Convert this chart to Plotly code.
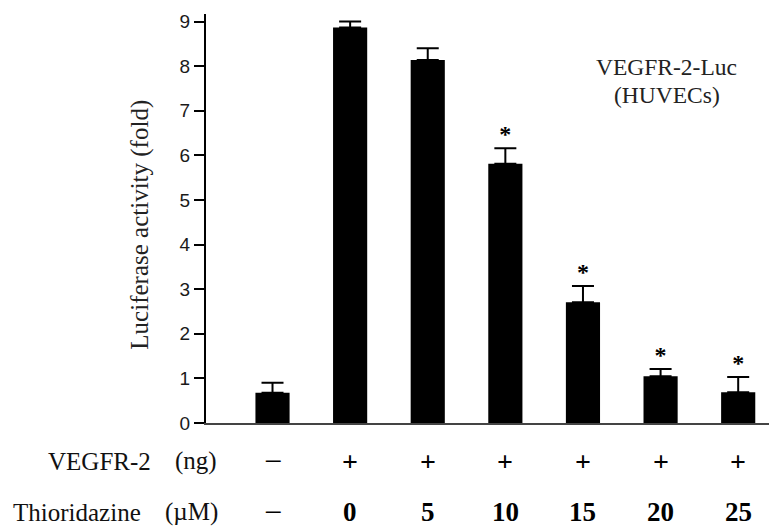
import plotly.graph_objects as go

# ---- data ----
groups = ["ctrl", "T0", "T5", "T10", "T15", "T20", "T25"]
vegfr2_row = ["−", "+", "+", "+", "+", "+", "+"]
thioridazine_row = ["−", "0", "5", "10", "15", "20", "25"]
luciferase_fold = [0.68, 8.87, 8.14, 5.81, 2.71, 1.05, 0.69]
sem_err = [0.22, 0.13, 0.26, 0.35, 0.36, 0.16, 0.34]
significant = [False, False, False, True, True, True, True]
y_ticks = [0, 1, 2, 3, 4, 5, 6, 7, 8, 9]

SERIF = "Liberation Serif, Times New Roman, serif"
SANS = "Liberation Sans, Arial, sans-serif"

fig = go.Figure()
fig.add_trace(go.Bar(
    x=groups, y=luciferase_fold, width=0.44,
    marker=dict(color="#000000", line=dict(width=0)),
    error_y=dict(type="data", symmetric=False, array=sem_err,
                 arrayminus=[0] * len(sem_err),
                 color="#000000", thickness=2, width=11),
    showlegend=False, hoverinfo="skip",
))

star_x = [g for g, s in zip(groups, significant) if s]
star_y = [v + e for v, e, s in zip(luciferase_fold, sem_err, significant) if s]
fig.add_trace(go.Scatter(
    x=star_x, y=star_y, mode="text", text=["<b>*</b>"] * len(star_x),
    textposition="top center",
    textfont=dict(family=SERIF, size=24, color="#000000"),
    showlegend=False, hoverinfo="skip",
))


def cell(label, size):
    if label == "−":
        return label, 32
    return "<b>%s</b>" % label, size


annotations = []
# bottom condition rows
for g, a, b in zip(groups, vegfr2_row, thioridazine_row):
    ta, sa = cell(a, 28)
    tb, sb = cell(b, 27)
    annotations.append(dict(x=g, xref="x", y=-0.0937, yref="paper", text=ta,
                            showarrow=False, xanchor="center", yanchor="middle",
                            font=dict(family=SERIF, size=sa, color="#000000")))
    annotations.append(dict(x=g, xref="x", y=-0.2185, yref="paper", text=tb,
                            showarrow=False, xanchor="center", yanchor="middle",
                            font=dict(family=SERIF, size=sb, color="#000000")))

row_font = dict(family=SERIF, size=25, color="#111111")
annotations += [
    dict(x=-0.0928, xref="paper", y=-0.0937, yref="paper", text="VEGFR-2", showarrow=False,
         xanchor="right", yanchor="middle", font=row_font),
    dict(x=-0.0578, xref="paper", y=-0.0937, yref="paper", text="(ng)", showarrow=False,
         xanchor="left", yanchor="middle", font=row_font),
    dict(x=-0.1103, xref="paper", y=-0.2185, yref="paper", text="Thioridazine", showarrow=False,
         xanchor="right", yanchor="middle", font=row_font),
    dict(x=-0.0753, xref="paper", y=-0.2185, yref="paper", text="(µM)", showarrow=False,
         xanchor="left", yanchor="middle", font=row_font),
    # y-axis title
    dict(x=-0.1147, xref="paper", y=0.4837, yref="paper", text="Luciferase activity (fold)",
         textangle=-90, showarrow=False, xanchor="center", yanchor="middle",
         font=dict(family=SERIF, size=25, color="#222222")),
    # inset label
    dict(x=0.807, xref="paper", y=0.870, yref="paper", text="VEGFR-2-Luc",
         showarrow=False, xanchor="center", yanchor="middle",
         font=dict(family=SERIF, size=23.5, color="#222222")),
    dict(x=0.807, xref="paper", y=0.802, yref="paper", text="(HUVECs)",
         showarrow=False, xanchor="center", yanchor="middle",
         font=dict(family=SERIF, size=23.5, color="#222222")),
]

# page body has an 8px margin, so the figure is sized/offset to land on the 777x531 frame
fig.update_layout(
    width=769, height=523,
    margin=dict(l=198, r=0, t=6, b=108),
    paper_bgcolor="white", plot_bgcolor="white",
    annotations=annotations,
    xaxis=dict(type="category", range=[-0.857, 6.5], showgrid=False, zeroline=False,
               showticklabels=False, ticks="", showline=True, linecolor="#444444", linewidth=2),
    yaxis=dict(range=[0, 9.17], tickvals=y_ticks, ticks="outside", ticklen=10, tickwidth=2,
               tickcolor="#000000", showline=True, linecolor="#000000", linewidth=2,
               showgrid=False, zeroline=False,
               tickfont=dict(family=SANS, size=19, color="#1a1a1a")),
)

fig.write_html("out.html")
